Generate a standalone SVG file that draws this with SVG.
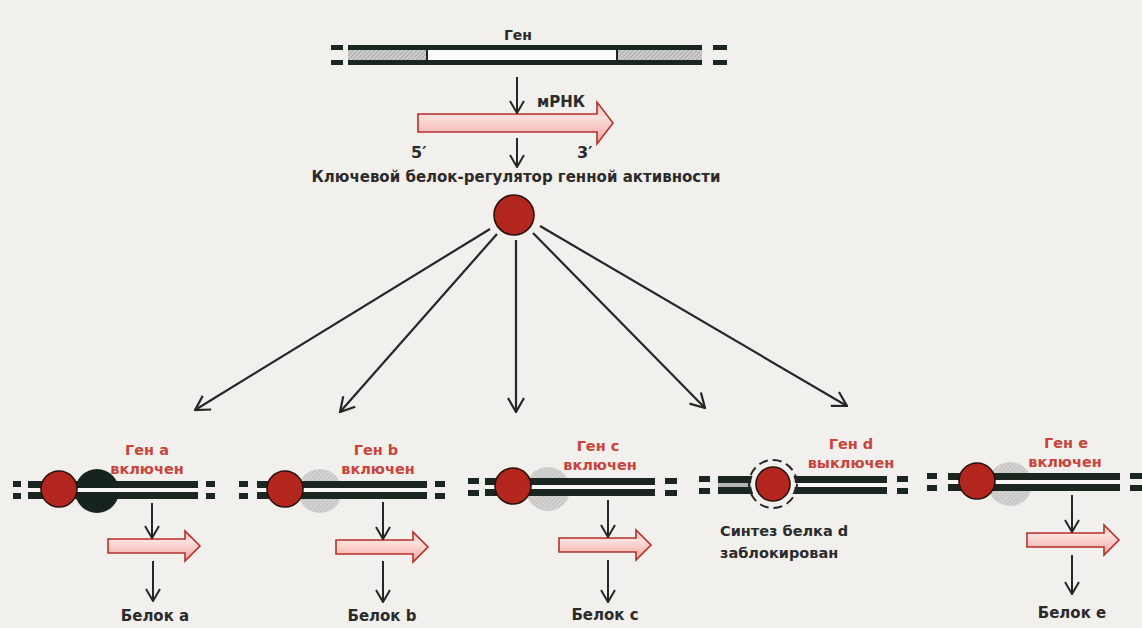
<svg xmlns="http://www.w3.org/2000/svg" xmlns:xlink="http://www.w3.org/1999/xlink" width="1142" height="628" viewBox="0 0 1142 628">
<defs>
<style>
.lbl{font-family:"DejaVu Sans","Liberation Sans",sans-serif;font-weight:bold;fill:#2b2b2b}
.red{font-family:"DejaVu Sans","Liberation Sans",sans-serif;font-weight:bold;fill:#c9433b;font-size:14.5px;text-anchor:middle}
.bar{fill:#1c2621}
.gap{fill:#f7f7f5}
.rc{fill:#b3261e;stroke:#2a0f0c;stroke-width:1.6}
.gc{fill:url(#hatchLight);opacity:0.8}
.pk{fill:url(#pinkGrad);stroke:#b5312d;stroke-width:1.6;stroke-linejoin:miter}
.arr{stroke:#262626;stroke-width:2.2;fill:none;marker-end:url(#vhead)}
.arrs{stroke:#262626;stroke-width:2;fill:none;marker-end:url(#vheadS)}
</style>
<pattern id="hatch" patternUnits="userSpaceOnUse" width="3" height="3" patternTransform="rotate(45)">
<rect width="3" height="3" fill="#cfcfcf"/>
<line x1="0" y1="0" x2="0" y2="3" stroke="#8d8d8d" stroke-width="1.2"/>
</pattern>
<pattern id="hatchLight" patternUnits="userSpaceOnUse" width="3" height="3" patternTransform="rotate(45)">
<rect width="3" height="3" fill="#cdcdcd"/>
<line x1="0" y1="0" x2="0" y2="3" stroke="#a3a3a3" stroke-width="1.2"/>
</pattern>
<linearGradient id="pinkGrad" x1="0" y1="0" x2="0" y2="1">
<stop offset="0" stop-color="#f6b9b3"/>
<stop offset="0.35" stop-color="#fde0dc"/>
<stop offset="1" stop-color="#f1a39d"/>
</linearGradient>
<marker id="vhead" viewBox="0 0 16 18" refX="15" refY="9" markerWidth="16" markerHeight="18" markerUnits="userSpaceOnUse" orient="auto">
<path d="M1,1 L15,9 L1,17" fill="none" stroke="#262626" stroke-width="2.2"/>
</marker>
<marker id="vheadS" viewBox="0 0 14 16" refX="13" refY="8" markerWidth="14" markerHeight="16" markerUnits="userSpaceOnUse" orient="auto">
<path d="M1,1 L13,8 L1,15" fill="none" stroke="#262626" stroke-width="2"/>
</marker>
<path id="smallArrow" d="M0,-7 L77,-7 L77,-15 L92,0 L77,15 L77,7 L0,7 Z"/>
</defs>

<rect x="0" y="0" width="1142" height="628" fill="#f2f0ec"/>

<g id="gene-top">
<text class="lbl" x="518" y="40" font-size="14" text-anchor="middle">Ген</text>
<rect class="bar" x="331" y="45" width="12" height="5"/>
<rect class="bar" x="331" y="60" width="12" height="5"/>
<rect x="348" y="50" width="79" height="10" fill="url(#hatch)"/>
<rect x="427" y="50" width="190" height="10" fill="#fbfbfa"/>
<rect x="617" y="50" width="85" height="10" fill="url(#hatch)"/>
<rect class="bar" x="348" y="45" width="354" height="5"/>
<rect class="bar" x="348" y="60" width="354" height="5"/>
<rect class="bar" x="426" y="50" width="2" height="10"/>
<rect class="bar" x="616" y="50" width="2" height="10"/>
<rect class="bar" x="713" y="45" width="14" height="5"/>
<rect class="bar" x="713" y="60" width="14" height="5"/>
</g>

<g id="mrna-top">
<path class="pk" d="M418,114 L597,114 L597,102 L613,123 L597,144 L597,132 L418,132 Z"/>
<text class="lbl" x="537" y="107" font-size="15">мРНК</text>
<text class="lbl" x="411" y="158" font-size="16">5′</text>
<text class="lbl" x="577" y="158" font-size="16">3′</text>
</g>

<g id="regulator">
<text class="lbl" x="516" y="182" font-size="15" text-anchor="middle">Ключевой белок-регулятор генной активности</text>
<circle class="rc" cx="514" cy="215" r="20"/>
</g>

<g id="gene-a">
<rect class="bar" x="13" y="481" width="8" height="6"/>
<rect class="bar" x="13" y="493" width="8" height="6"/>
<rect class="bar" x="28" y="481" width="170" height="18"/>
<circle cx="97" cy="491" r="22" fill="#17241e"/>
<rect class="gap" x="28" y="488" width="170" height="4"/>
<circle class="rc" cx="59" cy="489" r="18"/>
<rect class="bar" x="206" y="481" width="9" height="6"/>
<rect class="bar" x="206" y="493" width="9" height="6"/>
<text class="red" x="147" y="455">Ген a</text>
<text class="red" x="147" y="474">включен</text>
<use href="#smallArrow" class="pk" x="108" y="546"/>
<text class="lbl" x="155" y="621" font-size="15" text-anchor="middle">Белок a</text>
</g>

<g id="gene-b">
<rect class="bar" x="239" y="481" width="9" height="6"/>
<rect class="bar" x="239" y="493" width="9" height="6"/>
<circle class="gc" cx="320" cy="491" r="22"/>
<rect class="bar" x="257" y="481" width="170" height="18"/>
<rect class="gap" x="257" y="488" width="170" height="4"/>
<circle class="rc" cx="285" cy="489" r="18"/>
<rect class="bar" x="435" y="481" width="10" height="6"/>
<rect class="bar" x="435" y="493" width="10" height="6"/>
<text class="red" x="376" y="455">Ген b</text>
<text class="red" x="378" y="474">включен</text>
<use href="#smallArrow" class="pk" x="336" y="547"/>
<text class="lbl" x="382" y="621" font-size="15" text-anchor="middle">Белок b</text>
</g>

<g id="gene-c">
<rect class="bar" x="468" y="478" width="11" height="6"/>
<rect class="bar" x="468" y="490" width="11" height="6"/>
<circle class="gc" cx="548" cy="489" r="22"/>
<rect class="bar" x="485" y="478" width="170" height="18"/>
<rect class="gap" x="485" y="485" width="170" height="4"/>
<circle class="rc" cx="513" cy="486" r="18"/>
<rect class="bar" x="665" y="478" width="12" height="6"/>
<rect class="bar" x="665" y="490" width="12" height="6"/>
<text class="red" x="598" y="451">Ген c</text>
<text class="red" x="600" y="470">включен</text>
<use href="#smallArrow" class="pk" x="559" y="545"/>
<text class="lbl" x="605" y="620" font-size="15" text-anchor="middle">Белок c</text>
</g>

<g id="gene-d">
<rect class="bar" x="699" y="476" width="11" height="6"/>
<rect class="bar" x="699" y="488" width="11" height="6"/>
<rect class="bar" x="718" y="476" width="169" height="18"/>
<rect class="gap" x="718" y="483" width="169" height="4"/>
<rect x="718" y="483" width="50" height="4" fill="#b5b5b5"/>
<circle cx="773" cy="484" r="22" fill="#f2f0ec"/>
<circle cx="773" cy="484" r="24" fill="none" stroke="#262626" stroke-width="2" stroke-dasharray="9,5"/>
<circle class="rc" cx="773" cy="484" r="17"/>
<rect class="bar" x="897" y="476" width="11" height="6"/>
<rect class="bar" x="897" y="488" width="11" height="6"/>
<text class="red" x="851" y="449">Ген d</text>
<text class="red" x="851" y="468">выключен</text>
<text class="lbl" x="720" y="536" font-size="14.5">Синтез белка d</text>
<text class="lbl" x="720" y="558" font-size="14.5">заблокирован</text>
</g>

<g id="gene-e">
<rect class="bar" x="927" y="473" width="10" height="6"/>
<rect class="bar" x="927" y="485" width="10" height="6"/>
<circle class="gc" cx="1010" cy="484" r="22"/>
<rect class="bar" x="948" y="473" width="172" height="18"/>
<rect class="gap" x="948" y="480" width="172" height="4"/>
<circle class="rc" cx="977" cy="481" r="18"/>
<rect class="bar" x="1130" y="473" width="12" height="6"/>
<rect class="bar" x="1130" y="485" width="12" height="6"/>
<text class="red" x="1066" y="448">Ген e</text>
<text class="red" x="1065" y="467">включен</text>
<use href="#smallArrow" class="pk" x="1027" y="540"/>
<text class="lbl" x="1072" y="618" font-size="15" text-anchor="middle">Белок e</text>
</g>

<g id="connectors">
<line class="arrs" x1="517" y1="77" x2="517" y2="113"/>
<line class="arrs" x1="517" y1="138" x2="517" y2="167"/>
<line class="arr" x1="490" y1="229" x2="195" y2="410"/>
<line class="arr" x1="497" y1="234" x2="340" y2="412"/>
<line class="arr" x1="516" y1="240" x2="516" y2="412"/>
<line class="arr" x1="533" y1="233" x2="705" y2="408"/>
<line class="arr" x1="540" y1="226" x2="847" y2="406"/>
<line class="arrs" x1="152" y1="503" x2="152" y2="538"/>
<line class="arrs" x1="153" y1="561" x2="153" y2="601"/>
<line class="arrs" x1="383" y1="502" x2="383" y2="539"/>
<line class="arrs" x1="383" y1="561" x2="383" y2="602"/>
<line class="arrs" x1="608" y1="500" x2="608" y2="537"/>
<line class="arrs" x1="608" y1="560" x2="608" y2="602"/>
<line class="arrs" x1="1072" y1="495" x2="1072" y2="532"/>
<line class="arrs" x1="1072" y1="555" x2="1072" y2="594"/>
</g>
</svg>
